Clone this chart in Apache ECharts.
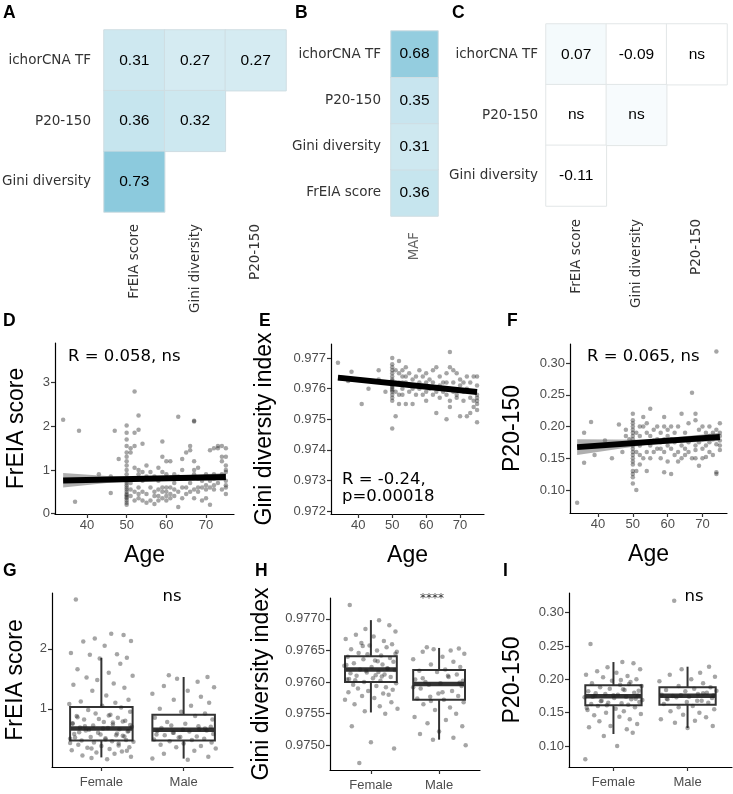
<!DOCTYPE html>
<html><head><meta charset="utf-8">
<script src="https://cdn.jsdelivr.net/npm/echarts@6/dist/echarts.min.js"></script>
<style>html,body{margin:0;padding:0;background:#fff}#c{width:733px;height:794px}</style>
</head><body><div id="c"></div>
<script>
// ---------- Heatmap data ----------
const A_cols = ['FrEIA score', 'Gini diversity', 'P20-150'];
const A_rows = ['Gini diversity', 'P20-150', 'ichorCNA TF']; // bottom -> top
const A_vals = [[0,2,0.31],[1,2,0.27],[2,2,0.27],[0,1,0.36],[1,1,0.32],[0,0,0.73]];

const B_cols = ['MAF'];
const B_rows = ['FrEIA score', 'Gini diversity', 'P20-150', 'ichorCNA TF'];
const B_vals = [[0,0,0.36],[0,1,0.31],[0,2,0.35],[0,3,0.68]];

const C_cols = ['FrEIA score', 'Gini diversity', 'P20-150'];
const C_rows = ['Gini diversity', 'P20-150', 'ichorCNA TF'];
const C_vals = [[0,2,0.07],[1,2,-0.09],[2,2,0.0],[0,1,0.0],[1,1,0.05],[0,0,-0.11]];
const C_labels = ['0.07', '-0.09', 'ns', 'ns', 'ns', '-0.11'];

// ---------- Scatter data (Age vs metric) ----------
const AGE_TICKS = [40, 50, 60, 70];
const D_points = [[34,2.15],[37,0.27],[38,1.9],[43,0.9],[46,0.47],[46,0.85],[47,1.9],[48,1.25],
[50,0.2],[50,0.25],[50,0.3],[50,0.35],[50,0.38],[50,0.42],[50,0.45],[50,0.5],[50,0.55],[50,0.6],[50,0.65],[50,0.7],[50,0.75],[50,0.8],[50,0.9],[50,1.0],[50,1.1],[50,1.2],[50,1.3],[50,1.4],[50,1.55],[50,1.7],[50,1.85],[50,2.02],
[51,0.4],[51,0.7],[51,1.4],[51,1.5],[51,0.55],
[52,2.8],[52,1.85],[52,1.55],[52,0.5],[52,0.3],[52,1.05],[52,0.8],
[53,2.25],[53,1.92],[53,1.0],[53,0.6],[53,0.9],[53,0.35],[53,0.45],
[54,1.6],[54,0.95],[54,0.5],[54,0.3],[54,0.75],
[55,0.85],[55,0.45],[55,1.1],[55,0.25],
[56,0.6],[56,0.95],[56,0.3],
[57,0.5],[57,0.4],[57,0.85],[57,0.22],
[58,0.4],[58,0.75],[58,1.05],[58,0.55],[58,0.3],
[59,1.65],[59,1.3],[59,0.5],[59,0.6],[59,0.35],[59,0.95],
[60,0.5],[60,0.9],[60,1.2],[60,0.4],[60,0.6],[60,0.3],
[61,1.2],[61,0.35],[61,0.6],[61,0.45],
[62,0.7],[62,0.55],[62,0.4],[62,0.9],
[63,2.22],[63,0.85],[63,0.15],[63,0.5],
[64,1.25],[64,0.6],[64,0.35],[64,1.0],
[65,1.4],[65,0.8],[65,0.45],[65,0.6],
[66,1.55],[66,0.5],[66,0.7],[66,1.45],
[67,2.13],[67,2.11],[67,1.2],[67,0.55],[67,0.9],[67,0.35],[67,1.0],
[68,0.5],[68,0.8],[68,0.6],[68,1.05],
[69,0.3],[69,0.6],[69,0.75],
[70,0.55],[70,0.65],[70,0.35],[70,0.9],
[71,0.6],[71,0.2],[71,1.45],[71,0.75],
[72,0.55],[72,1.5],[72,0.8],[72,0.65],[72,0.9],
[73,1.55],[73,0.7],[73,1.5],
[74,1.55],[74,1.3],[74,0.55],[74,0.9],[74,0.85],[74,1.2],
[75,1.5],[75,1.1],[75,1.3],[75,0.45],[75,0.6],[75,0.75],[75,0.95],[75,1.0],[75,0.65]];
const D_fit  = [[34,0.76],[75,0.84]];
const D_band = [[34,0.60,0.93],[45,0.70,0.86],[55,0.75,0.84],[65,0.76,0.88],[75,0.75,0.93]];

const E_points = [[34,0.97685],[37,0.97625],[38,0.97655],[41,0.9755],[43,0.9760],[46,0.9766],[46,0.9763],[48,0.9759],
[50,0.9747],[50,0.9756],[50,0.9757],[50,0.9758],[50,0.9759],[50,0.97595],[50,0.9760],[50,0.97605],[50,0.9761],[50,0.97615],[50,0.9762],[50,0.97625],[50,0.9763],[50,0.9764],[50,0.9765],[50,0.9766],[50,0.9767],[50,0.9768],[50,0.9770],
[51,0.9751],[51,0.9762],[51,0.9766],[51,0.9759],
[52,0.9769],[52,0.9755],[52,0.9762],[52,0.9765],[52,0.9758],
[53,0.9766],[53,0.9764],[53,0.9760],[53,0.9758],[53,0.9762],
[54,0.9755],[54,0.9762],[54,0.9767],[54,0.9764],
[55,0.9761],[55,0.9759],[55,0.9765],
[56,0.9755],[56,0.9763],[56,0.9760],
[57,0.9764],[57,0.9761],[57,0.9758],
[58,0.9766],[58,0.9760],[58,0.9762],
[59,0.9764],[59,0.9758],[59,0.9761],
[60,0.9765],[60,0.9762],[60,0.9756],[60,0.9759],
[61,0.9760],[61,0.9763],
[62,0.9762],[62,0.9758],[62,0.9766],
[63,0.9767],[63,0.9759],[63,0.9752],
[64,0.9761],[64,0.9764],[64,0.9757],
[65,0.9762],[65,0.9760],[65,0.9759],
[66,0.9758],[66,0.9765],[66,0.9750],[66,0.9762],
[67,0.9772],[67,0.9767],[67,0.9754],[67,0.9760],[67,0.9756],
[68,0.9766],[68,0.9759],[68,0.9762],
[69,0.9765],[69,0.9757],[69,0.9758],
[70,0.9763],[70,0.9761],[70,0.9751],
[71,0.9759],[71,0.9762],[71,0.9756],
[72,0.9760],[72,0.9764],[72,0.9751],
[73,0.9757],[73,0.9762],[73,0.9752],
[74,0.9764],[74,0.9756],[74,0.9759],[74,0.9754],
[75,0.9749],[75,0.9757],[75,0.9755],[75,0.9758],[75,0.9761],[75,0.9753],[75,0.9756],[75,0.9764]];
const E_fit  = [[34,0.97636],[75,0.97589]];
const E_band = [[34,0.97627,0.97645],[55,0.97608,0.97615],[75,0.97582,0.97596]];

const F_points = [[34,0.08],[36,0.19],[36,0.143],[38,0.207],[39,0.155],[42,0.178],[44,0.15],[46,0.203],[47,0.16],[48,0.185],[48,0.195],[49,0.18],
[50,0.11],[50,0.12],[50,0.125],[50,0.13],[50,0.14],[50,0.145],[50,0.15],[50,0.155],[50,0.16],[50,0.165],[50,0.17],[50,0.175],[50,0.18],[50,0.185],[50,0.19],[50,0.195],[50,0.20],[50,0.205],[50,0.21],[50,0.22],
[51,0.10],[51,0.13],[51,0.16],[51,0.19],
[52,0.14],[52,0.17],[52,0.20],[52,0.185],[52,0.155],
[53,0.15],[53,0.175],[53,0.215],[53,0.20],
[54,0.13],[54,0.16],[54,0.19],[54,0.205],
[55,0.228],[55,0.17],[55,0.185],[55,0.15],
[56,0.16],[56,0.195],[56,0.178],
[57,0.20],[57,0.165],[57,0.18],
[58,0.15],[58,0.175],[58,0.19],[58,0.165],
[59,0.128],[59,0.215],[59,0.18],[59,0.16],[59,0.20],
[60,0.145],[60,0.17],[60,0.185],[60,0.195],
[61,0.125],[61,0.165],[61,0.18],[61,0.20],
[62,0.155],[62,0.19],[62,0.175],
[63,0.16],[63,0.20],[63,0.145],
[64,0.15],[64,0.18],[64,0.22],[64,0.17],
[65,0.155],[65,0.19],[65,0.165],
[66,0.175],[66,0.205],[66,0.16],
[67,0.253],[67,0.15],[67,0.18],
[68,0.22],[68,0.21],[68,0.17],[68,0.15],[68,0.163],
[69,0.138],[69,0.175],[69,0.195],
[70,0.15],[70,0.165],[70,0.18],[70,0.20],
[71,0.152],[71,0.17],[71,0.19],
[72,0.16],[72,0.185],[72,0.20],[72,0.175],
[73,0.155],[73,0.19],[73,0.18],
[74,0.318],[74,0.128],[74,0.125],[74,0.195],[74,0.172],
[75,0.205],[75,0.17],[75,0.163],[75,0.185],[75,0.178],[75,0.19]];
const F_fit  = [[34,0.1675],[75,0.1835]];
const F_band = [[34,0.155,0.180],[55,0.172,0.179],[75,0.177,0.190]];

// ---------- Box plot data (Sex) ----------
const SEX = ['Female', 'Male'];
const JITTER = [-0.31,0.12,0.27,-0.08,0.36,-0.22,0.04,-0.37,0.19,-0.14,0.31,-0.02,0.23,-0.29,0.09,0.38,-0.18,-0.05,0.15,-0.34,
0.28,-0.11,0.06,0.33,-0.25,0.17,-0.39,0.01,0.24,-0.16,0.35,-0.07,0.11,-0.30,0.20,-0.21,0.29,0.03,-0.35,0.14,
-0.10,0.37,-0.26,0.08,0.22,-0.19,0.32,-0.04,-0.33,0.18,0.26,-0.13,0.05,-0.38,0.30,-0.24,0.13,0.39,-0.09,0.21,
-0.28,0.00,0.34,-0.17,0.10,-0.36,0.25,-0.06,0.16,-0.23,0.36,-0.12,0.07,-0.32,0.28,-0.01,0.19,-0.27,0.33,-0.15,
0.02,-0.20,0.35,-0.35,0.14,0.26,-0.03,-0.29,0.09,0.31,-0.12,0.21,-0.38,0.05,0.37,-0.24,0.17,-0.08,0.29,-0.18];

const G_female = [2.82,2.25,2.23,2.17,2.13,2.12,2.05,1.93,1.91,1.90,1.85,1.84,1.75,1.66,1.60,1.55,1.52,1.48,1.42,1.40,
1.35,1.30,1.22,1.15,1.12,1.10,1.08,1.05,1.02,0.98,0.95,0.92,0.90,0.88,0.85,0.82,0.80,0.78,0.76,0.74,
0.72,0.70,0.69,0.68,0.66,0.64,0.62,0.60,0.58,0.56,0.55,0.53,0.51,0.50,0.48,0.47,0.46,0.45,0.44,0.42,
0.40,0.38,0.36,0.35,0.33,0.31,0.29,0.27,0.25,0.22,0.20,0.18,0.16,0.52,0.54,0.57,0.59,0.61,0.63,0.65,
0.67,0.71,0.73,0.75,0.77,0.79,0.83,0.86,0.89,0.30,0.34,0.39,0.43,0.49];
const G_male = [1.56,1.53,1.50,1.45,1.38,1.36,1.30,1.25,1.20,1.15,1.10,1.05,1.00,0.95,0.92,0.88,0.85,0.82,0.78,0.75,
0.72,0.70,0.68,0.66,0.65,0.64,0.63,0.62,0.60,0.58,0.56,0.54,0.52,0.50,0.49,0.48,0.46,0.44,0.42,0.40,
0.38,0.36,0.34,0.30,0.25,0.20,0.17,0.15,0.60,0.67,0.71,0.57,0.53];
const G_box = [[1,0.19,0.47,0.67,1.03,1.85],[2,0.17,0.47,0.65,0.90,1.53]];

const H_female = [0.97722,0.97698,0.97690,0.97684,0.97680,0.97675,0.97672,0.97668,0.97665,0.97662,0.97660,0.97658,0.97655,0.97652,0.97650,0.97648,0.97646,0.97644,0.97642,0.97640,
0.97638,0.97636,0.97634,0.97632,0.97630,0.97628,0.97626,0.97624,0.97622,0.97620,0.97619,0.97618,0.97616,0.97614,0.97612,0.97610,0.97608,0.97606,0.97604,0.97602,
0.97600,0.97598,0.97596,0.97594,0.97592,0.97590,0.97588,0.97586,0.97584,0.97582,0.97580,0.97578,0.97575,0.97572,0.97568,0.97565,0.97562,0.97558,0.97554,0.97550,
0.97530,0.97505,0.97495,0.97472,0.97633,0.97627,0.97621,0.97615,0.97609,0.97603,0.97645,0.97657,0.97611,0.97605];
const H_male = [0.97655,0.97653,0.97652,0.97650,0.97648,0.97645,0.97640,0.97636,0.97632,0.97628,0.97624,0.97620,0.97618,0.97616,0.97612,0.97608,0.97604,0.97602,0.97600,0.97598,
0.97596,0.97594,0.97590,0.97586,0.97582,0.97578,0.97574,0.97572,0.97570,0.97568,0.97565,0.97560,0.97556,0.97550,0.97545,0.97540,0.97535,0.97530,0.97522,0.97518,
0.97512,0.97509,0.97500,0.97610,0.97606,0.97599,0.97592,0.97584,0.97577];
const H_box = [[1,0.97552,0.97600,0.97620,0.97641,0.97698],[2,0.97509,0.97572,0.97597,0.97619,0.97654]];

const I_female = [0.253,0.226,0.224,0.218,0.215,0.212,0.210,0.207,0.205,0.203,0.200,0.198,0.196,0.194,0.192,0.190,0.188,0.186,0.184,0.182,
0.180,0.178,0.177,0.176,0.175,0.174,0.173,0.172,0.170,0.168,0.166,0.165,0.164,0.163,0.162,0.160,0.158,0.156,0.154,0.152,
0.150,0.148,0.146,0.144,0.140,0.137,0.133,0.130,0.128,0.125,0.120,0.115,0.100,0.080,0.171,0.179,0.185,0.169,0.161,0.193,
0.174,0.176,0.183,0.167,0.199,0.157];
const I_male = [0.318,0.219,0.215,0.210,0.207,0.204,0.200,0.197,0.194,0.190,0.188,0.186,0.184,0.182,0.180,0.178,0.177,0.176,0.175,0.174,
0.173,0.172,0.170,0.168,0.166,0.165,0.163,0.160,0.158,0.155,0.152,0.150,0.147,0.143,0.140,0.138,0.135,0.130,0.127,0.171,
0.179,0.176,0.183,0.168];
const I_box = [[1,0.118,0.161,0.1745,0.191,0.226],[2,0.127,0.162,0.1755,0.188,0.219]];

// ---------- helpers (style only) ----------
const NUMFONT = 'Liberation Sans';
const TXTFONT = 'DejaVu Sans';
const PT_COLOR = 'rgba(30,30,30,0.5)';

function catAxis(gi, data, pos, extra) {
  return Object.assign({
    gridIndex: gi, type: 'category', data: data, position: pos,
    axisLine: {show: false}, axisTick: {show: false}, splitLine: {show: false},
    axisLabel: {fontFamily: TXTFONT, fontSize: 13.5, color: '#333'}
  }, extra);
}
function valAxis(gi, min, max, ticks, fmt, name, gap, labelExtra) {
  return {
    gridIndex: gi, type: 'value', min: min, max: max,
    name: name, nameLocation: 'middle', nameGap: gap,
    nameTextStyle: {fontFamily: NUMFONT, fontSize: 23, color: '#000'},
    axisLine: {show: true, onZero: false, lineStyle: {color: '#000', width: 1.2}},
    axisTick: {show: true, length: 4, customValues: ticks, lineStyle: {color: '#333', width: 1.2}},
    axisLabel: Object.assign({customValues: ticks, formatter: fmt, color: '#4d4d4d', fontSize: 13, fontFamily: NUMFONT, margin: 5}, labelExtra || {}),
    splitLine: {show: false}
  };
}
function bandSeries(gi, band) {
  return {
    type: 'custom', xAxisIndex: gi, yAxisIndex: gi, data: band, z: 3,
    encode: {x: 0, y: [1, 2]},
    renderItem: function (params, api) {
      if (params.dataIndex !== 0) return null;
      const up = band.map(b => api.coord([b[0], b[2]]));
      const lo = band.map(b => api.coord([b[0], b[1]])).reverse();
      return {type: 'polygon', shape: {points: up.concat(lo)}, style: {fill: 'rgba(110,110,110,0.55)'}};
    }
  };
}
function fitSeries(gi, fit) {
  return {type: 'line', xAxisIndex: gi, yAxisIndex: gi, data: fit, symbol: 'none', z: 4,
    lineStyle: {color: '#000', width: 6}, silent: true};
}
function ptSeries(gi, pts) {
  return {type: 'scatter', xAxisIndex: gi, yAxisIndex: gi, data: pts, symbolSize: 4.5, z: 2,
    itemStyle: {color: PT_COLOR}, silent: true};
}
function boxSeries(gi, box) {
  return {
    type: 'custom', xAxisIndex: gi, yAxisIndex: gi, data: box, z: 2,
    encode: {x: 0, y: [1, 2, 3, 4, 5]},
    renderItem: function (params, api) {
      const x = api.value(0), lo = api.value(1), q1 = api.value(2), md = api.value(3), q3 = api.value(4), hi = api.value(5);
      const hw = 0.38;
      const tl = api.coord([x - hw, q3]), br = api.coord([x + hw, q1]);
      const ml = api.coord([x - hw, md]), mr = api.coord([x + hw, md]);
      const pHi = api.coord([x, hi]), pQ3 = api.coord([x, q3]), pQ1 = api.coord([x, q1]), pLo = api.coord([x, lo]);
      const st = {stroke: '#333', lineWidth: 2, fill: null};
      return {type: 'group', children: [
        {type: 'line', shape: {x1: pHi[0], y1: pHi[1], x2: pQ3[0], y2: pQ3[1]}, style: st},
        {type: 'line', shape: {x1: pQ1[0], y1: pQ1[1], x2: pLo[0], y2: pLo[1]}, style: st},
        {type: 'rect', shape: {x: tl[0], y: tl[1], width: br[0] - tl[0], height: br[1] - tl[1]}, style: {stroke: '#333', lineWidth: 2, fill: 'rgba(255,255,255,0)'}},
        {type: 'line', shape: {x1: ml[0], y1: ml[1], x2: mr[0], y2: mr[1]}, style: {stroke: '#333', lineWidth: 4.5}}
      ]};
    }
  };
}
function sexPoints(fem, mal) {
  const n = JITTER.length;
  return fem.map((v, i) => [1 + JITTER[i], v]).concat(mal.map((v, i) => [2 + JITTER[n - 1 - i], v]));
}
function heat(gi, vals, fmt, border) {
  return {
    type: 'heatmap', xAxisIndex: gi, yAxisIndex: gi, data: vals,
    itemStyle: {borderColor: border, borderWidth: 1},
    label: {show: true, formatter: fmt, fontFamily: NUMFONT, fontSize: 15.5, color: '#000'},
    emphasis: {disabled: true}, silent: true
  };
}
function txt(x, y, s, size, opts) {
  return {type: 'text', x: x, y: y, silent: true,
    style: Object.assign({text: s, fontSize: size, fontFamily: TXTFONT, fill: '#000', align: 'left', verticalAlign: 'middle'}, opts || {})};
}
function letter(x, y, s) {
  return {type: 'text', x: x, y: y, silent: true,
    style: {text: s, fontSize: 17.5, fontWeight: 'bold', fontFamily: NUMFONT, fill: '#000', align: 'left', verticalAlign: 'top'}};
}

const f2 = v => v.toFixed(2), f3 = v => v.toFixed(3), f4 = v => v.toFixed(4), f0 = v => String(Math.round(v));
const sexFmt = v => SEX[Math.round(v) - 1];

const grids = [
  {left: 104, top: 30, width: 182, height: 182},   // A
  {left: 391, top: 31, width: 47, height: 185},    // B
  {left: 546, top: 24, width: 181, height: 182},   // C
  {left: 55, top: 343, width: 179, height: 171},   // D
  {left: 331, top: 344, width: 153, height: 170},  // E
  {left: 570, top: 344, width: 157, height: 169},  // F
  {left: 52, top: 593, width: 181, height: 174},   // G
  {left: 330, top: 598, width: 150, height: 172},  // H
  {left: 569, top: 593, width: 163, height: 174}   // I
].map(g => Object.assign({outerBoundsMode: 'none', containLabel: false}, g));

const xAxes = [
  catAxis(0, A_cols, 'bottom', {axisLabel: {fontFamily: TXTFONT, fontSize: 13.5, color: '#333', rotate: 90, margin: 12}}),
  catAxis(1, B_cols, 'bottom', {axisLabel: {fontFamily: TXTFONT, fontSize: 13.3, color: '#666', rotate: 90, margin: 16}}),
  catAxis(2, C_cols, 'bottom', {axisLabel: {fontFamily: TXTFONT, fontSize: 13.5, color: '#333', rotate: 90, margin: 13}}),
  valAxis(3, 31.95, 77.05, AGE_TICKS, f0, 'Age', 30),
  valAxis(4, 31.95, 77.05, AGE_TICKS, f0, 'Age', 30),
  valAxis(5, 31.95, 77.05, AGE_TICKS, f0, 'Age', 30),
  valAxis(6, 0.4, 2.6, [1, 2], sexFmt, '', 0, {margin: 9}),
  valAxis(7, 0.4, 2.6, [1, 2], sexFmt, '', 0, {margin: 9}),
  valAxis(8, 0.4, 2.6, [1, 2], sexFmt, '', 0, {margin: 9})
];
const yAxes = [
  catAxis(0, A_rows, 'left', {axisLabel: {fontFamily: TXTFONT, fontSize: 13.5, color: '#333', margin: 13}}),
  catAxis(1, B_rows, 'left', {axisLabel: {fontFamily: TXTFONT, fontSize: 13.5, color: '#333', margin: 10}}),
  catAxis(2, C_rows, 'left', {axisLabel: {fontFamily: TXTFONT, fontSize: 13.5, color: '#333', margin: 8}}),
  valAxis(3, -0.01, 3.91, [0, 1, 2, 3], f0, 'FrEIA score', 27),
  valAxis(4, 0.97190, 0.97746, [0.972, 0.973, 0.974, 0.975, 0.976, 0.977], f3, 'Gini diversity index', 55),
  valAxis(5, 0.0637, 0.330, [0.10, 0.15, 0.20, 0.25, 0.30], f2, 'P20-150', 46),
  valAxis(6, 0.03, 2.93, [1, 2], f0, 'FrEIA score', 25),
  valAxis(7, 0.97461, 0.97733, [0.9750, 0.9755, 0.9760, 0.9765, 0.9770], f4, 'Gini diversity index', 57),
  valAxis(8, 0.0685, 0.3296, [0.10, 0.15, 0.20, 0.25, 0.30], f2, 'P20-150', 45)
];

const series = [
  heat(0, A_vals, p => f2(p.value[2]), '#cfdde2'),
  heat(1, B_vals, p => f2(p.value[2]), '#cfdde2'),
  heat(2, C_vals, p => C_labels[p.dataIndex], '#e2e6e7'),
  ptSeries(3, D_points), bandSeries(3, D_band), fitSeries(3, D_fit),
  ptSeries(4, E_points), bandSeries(4, E_band), fitSeries(4, E_fit),
  ptSeries(5, F_points), bandSeries(5, F_band), fitSeries(5, F_fit),
  boxSeries(6, G_box), ptSeries(6, sexPoints(G_female, G_male)),
  boxSeries(7, H_box), ptSeries(7, sexPoints(H_female, H_male)),
  boxSeries(8, I_box), ptSeries(8, sexPoints(I_female, I_male))
];
series[13].z = 5; series[15].z = 5; series[17].z = 5;

const graphics = [
  letter(3, 4, 'A'), letter(295, 4, 'B'), letter(452, 4, 'C'),
  letter(3, 312, 'D'), letter(259, 312, 'E'), letter(507, 312, 'F'),
  letter(3, 562, 'G'), letter(255, 562, 'H'), letter(503, 562, 'I'),
  txt(68, 357, 'R = 0.058, ns', 16.5),
  txt(342, 480, 'R = -0.24,', 16.5),
  txt(342, 497, 'p=0.00018', 16.5),
  txt(587, 357, 'R = 0.065, ns', 16.5),
  txt(172, 597, 'ns', 16.5, {align: 'center'}),
  txt(432, 599, '****', 12, {align: 'center', fill: '#333'}),
  txt(694, 597, 'ns', 16.5, {align: 'center'})
];

const chart = echarts.init(document.getElementById('c'), null, {renderer: 'canvas'});
chart.setOption({
  animation: false,
  backgroundColor: '#fff',
  grid: grids,
  xAxis: xAxes,
  yAxis: yAxes,
  visualMap: {type: 'continuous', show: false, min: -1, max: 1, dimension: 2, seriesIndex: [0, 1, 2],
    inRange: {color: ['#ffffff', '#ffffff', '#62b6d0']}},
  series: series,
  graphic: graphics
});
</script></body></html>
